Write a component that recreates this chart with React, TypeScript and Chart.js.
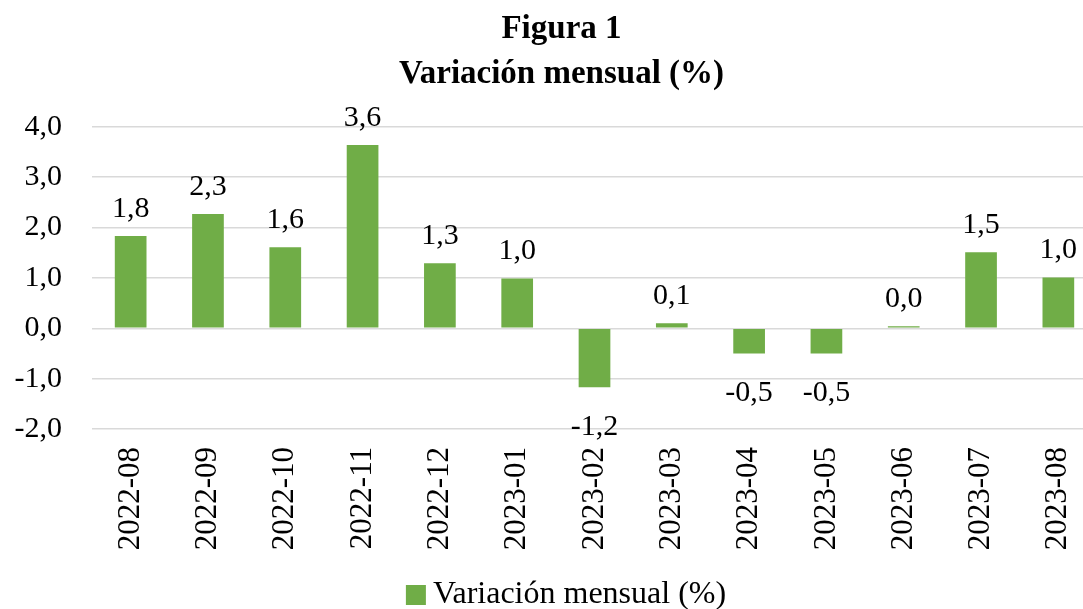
import React, { useEffect, useRef } from "react";
import { Chart, registerables } from "chart.js";

Chart.register(...registerables);

const categories = [
  "2022-08", "2022-09", "2022-10", "2022-11", "2022-12", "2023-01", "2023-02",
  "2023-03", "2023-04", "2023-05", "2023-06", "2023-07", "2023-08",
];
const values = [1.83, 2.27, 1.61, 3.64, 1.29, 0.99, -1.17, 0.1, -0.5, -0.5, 0.04, 1.51, 1.01];
const seriesName = "Variación mensual (%)";
const titleLines = ["Figura 1", "Variación mensual (%)"];

const FONT = "'Liberation Serif', 'Times New Roman', serif";
const GREEN = "#70AD47";
const CANVAS_W = 1120;
const VIEW_W = 1083;
const VIEW_H = 609;

const fmt = (v: number) => v.toFixed(1).replace(".", ",");

const labelPlugin = {
  id: "barLabels",
  afterDatasetsDraw(chart: any) {
    const ctx = chart.ctx;
    const meta = chart.getDatasetMeta(0);
    ctx.save();
    ctx.font = `30px ${FONT}`;
    ctx.fillStyle = "#000";
    ctx.textAlign = "center";
    meta.data.forEach((el: any, i: number) => {
      const v = values[i];
      if (v >= 0) {
        ctx.textBaseline = "bottom";
        ctx.fillText(fmt(v), el.x, el.y - 12);
      } else {
        ctx.textBaseline = "top";
        ctx.fillText(fmt(v), el.x, el.y + 25);
      }
    });
    ctx.restore();
  },
};

const titleShiftPlugin = {
  id: "titleShift",
  afterLayout(chart: any) {
    const t = chart.titleBlock;
    if (t) {
      t.left += 13;
      t.right += 13;
    }
  },
};

const legendPlugin = {
  id: "customLegend",
  afterDraw(chart: any) {
    const ctx = chart.ctx;
    ctx.save();
    ctx.font = `32px ${FONT}`;
    const tw = ctx.measureText(seriesName).width;
    const box = 20;
    const gap = 7;
    const total = box + gap + tw;
    const left = chart.width / 2 + 6 - total / 2;
    const cy = chart.height - 14;
    ctx.fillStyle = GREEN;
    ctx.fillRect(left, cy - box / 2, box, box);
    ctx.fillStyle = "#000";
    ctx.textAlign = "left";
    ctx.textBaseline = "middle";
    ctx.fillText(seriesName, left + box + gap, cy);
    ctx.restore();
  },
};

export default function App() {
  const ref = useRef<HTMLCanvasElement | null>(null);
  useEffect(() => {
    document.body.style.margin = "0";
    const chart = new Chart(ref.current!, {
      type: "bar",
      data: {
        labels: categories,
        datasets: [
          {
            label: seriesName,
            data: values,
            backgroundColor: GREEN,
            borderWidth: 0,
            categoryPercentage: 1,
            barPercentage: 0.41,
          },
        ],
      },
      plugins: [labelPlugin, legendPlugin, titleShiftPlugin],
      options: {
        animation: false,
        responsive: false,
        maintainAspectRatio: false,
        layout: { padding: { left: 0, right: 23, top: 0, bottom: 30 } },
        plugins: {
          title: {
            display: true,
            text: titleLines,
            color: "#000",
            font: { family: FONT, size: 33, weight: "bold", lineHeight: 1.36 },
            padding: { top: 7, bottom: 30 },
          },
          legend: { display: false },
          tooltip: { enabled: false },
        },
        scales: {
          x: {
            grid: { display: false },
            border: { display: false },
            afterFit: (scale: any) => {
              scale.height = 150;
            },
            ticks: {
              color: "#000",
              font: { family: FONT, size: 31 },
              maxRotation: 90,
              minRotation: 90,
              padding: 10,
              autoSkip: false,
            },
          },
          y: {
            min: -2,
            max: 4,
            afterFit: (scale: any) => {
              scale.width = 92;
            },
            grid: { color: "#d9d9d9", lineWidth: 1.5, drawTicks: false },
            border: { display: false },
            ticks: {
              stepSize: 1,
              color: "#000",
              font: { family: FONT, size: 30 },
              padding: 30,
              callback: (v: any) => fmt(Number(v)),
            },
          },
        },
      },
    });
    return () => chart.destroy();
  }, []);
  return (
    <div style={{ width: VIEW_W, height: VIEW_H, overflow: "hidden", position: "relative" }}>
      <canvas
        ref={ref}
        width={CANVAS_W}
        height={VIEW_H}
        style={{ width: CANVAS_W, height: VIEW_H, display: "block" }}
      />
    </div>
  );
}
